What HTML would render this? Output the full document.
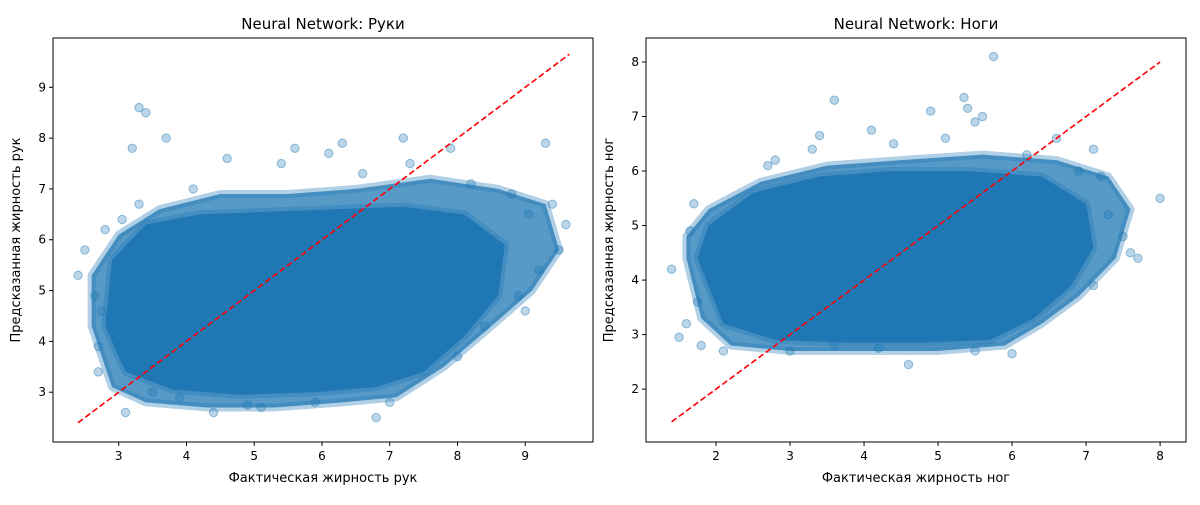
<!DOCTYPE html>
<html><head><meta charset="utf-8">
<style>
body{margin:0;background:#fff;font-family:"Liberation Sans","DejaVu Sans",sans-serif;}
svg text{font-family:"DejaVu Sans","Liberation Sans",sans-serif;}
</style></head>
<body>
<svg id="c" width="1200" height="500" xmlns="http://www.w3.org/2000/svg"></svg>
<script>
// ---- Left panel data (arms) ----
const armXTicks = [3,4,5,6,7,8,9];
const armYTicks = [3,4,5,6,7,8,9];
const armOuterX = [2.6,2.9,3.4,4.3,5.3,6.3,7.1,7.8,8.5,9.1,9.5,9.3,8.6,7.6,6.5,5.5,4.5,3.6,3.0,2.6];
const armOuterY = [4.3,3.1,2.8,2.7,2.7,2.8,2.9,3.5,4.3,5.0,5.8,6.7,7.0,7.2,7.0,6.9,6.9,6.6,6.1,5.3];
const armInnerX = [2.8,3.1,3.8,4.8,5.9,6.8,7.5,8.1,8.6,8.7,8.1,7.2,6.2,5.2,4.2,3.4,2.9];
const armInnerY = [4.3,3.4,3.05,2.95,3.0,3.1,3.4,4.1,4.9,5.9,6.5,6.65,6.6,6.55,6.5,6.3,5.6];
const armPtX = [2.4,2.5,3.3,3.4,3.2,3.7,4.6,5.6,6.1,6.3,7.2,7.9,9.3,9.4,9.6,9.5,9.2,8.9,3.1,2.7,7.5,6.8,4.4,8.0,9.0,2.8,3.5,5.1,2.65,2.7,3.05,4.1,5.4,6.6,7.3,8.2,8.8,9.05,8.4,7.0,5.9,4.9,3.9,3.3,2.75];
const armPtY = [5.3,5.8,8.6,8.5,7.8,8.0,7.6,7.8,7.7,7.9,8.0,7.8,7.9,6.7,6.3,5.8,5.4,4.9,2.6,3.4,3.6,2.5,2.6,3.7,4.6,6.2,3.0,2.7,4.9,3.9,6.4,7.0,7.5,7.3,7.5,7.1,6.9,6.5,4.3,2.8,2.8,2.75,2.9,6.7,4.6];
const armDiag = [2.4,9.65];
// ---- Right panel data (legs) ----
const legXTicks = [2,3,4,5,6,7,8];
const legYTicks = [2,3,4,5,6,7,8];
const legOuterX = [1.6,1.8,2.2,3.0,4.0,5.0,5.9,6.4,6.9,7.4,7.6,7.3,6.6,5.6,4.5,3.5,2.6,1.9,1.6];
const legOuterY = [4.4,3.3,2.8,2.7,2.7,2.7,2.8,3.2,3.7,4.4,5.3,5.9,6.2,6.3,6.2,6.1,5.8,5.3,4.8];
const legInnerX = [1.75,2.1,2.8,3.8,4.8,5.7,6.3,6.8,7.1,7.0,6.4,5.4,4.4,3.4,2.5,1.9];
const legInnerY = [4.4,3.2,2.9,2.85,2.85,2.9,3.3,3.9,4.6,5.4,5.9,6.0,6.0,5.9,5.6,5.0];
const legPtX = [1.4,1.5,1.6,5.75,3.6,5.35,4.9,5.4,5.6,5.5,4.1,3.4,8.0,7.7,7.6,7.2,6.6,2.8,4.6,1.8,7.1,6.0,3.0,1.7,2.1,1.75,1.65,2.7,3.3,4.4,5.1,6.2,6.9,7.3,7.5,7.1,5.5,4.2,3.6];
const legPtY = [4.2,2.95,3.2,8.1,7.3,7.35,7.1,7.15,7.0,6.9,6.75,6.65,5.5,4.4,4.5,5.9,6.6,6.2,2.45,2.8,6.4,2.65,2.7,5.4,2.7,3.6,4.9,6.1,6.4,6.5,6.6,6.3,6.0,5.2,4.8,3.9,2.7,2.75,2.8];
const legDiag = [1.4,8.0];

const NS='http://www.w3.org/2000/svg';
const svg=document.getElementById('c');
function mk(tag,attrs,parent){const e=document.createElementNS(NS,tag);for(const k in attrs)e.setAttribute(k,attrs[k]);(parent||svg).appendChild(e);return e;}
const BLUE='#1f77b4';

function panel(o){
  const g=mk('g',{});
  
  
  const sx=v=>o.x0+(v-o.xmin)/(o.xmax-o.xmin)*(o.x1-o.x0);
  const sy=v=>o.y1-(v-o.ymin)/(o.ymax-o.ymin)*(o.y1-o.y0);
  const poly=(xs,ys,op,nm)=>{
    const p=mk('polygon',{points:xs.map((x,i)=>sx(x)+','+sy(ys[i])).join(' '),fill:BLUE,'fill-opacity':op,stroke:BLUE,'stroke-opacity':0.35,'stroke-width':8,'stroke-linejoin':'round'},g);
    
    
  };
  poly(o.ox,o.oy,0.75,'scatter-cloud-outer');
  poly(o.ix,o.iy,1.0,'scatter-cloud-core');
  o.px.forEach((x,i)=>{
    const c=mk('circle',{cx:sx(x),cy:sy(o.py[i]),r:4.2,fill:BLUE,'fill-opacity':0.3,stroke:BLUE,'stroke-opacity':0.45},g);
    
    
  });
  const d=mk('line',{x1:sx(o.diag[0]),y1:sy(o.diag[0]),x2:sx(o.diag[1]),y2:sy(o.diag[1]),stroke:'#ff0000','stroke-width':1.6,'stroke-dasharray':'6,3'},g);
  
  
  const fr=mk('rect',{x:o.x0,y:o.y0,width:o.x1-o.x0,height:o.y1-o.y0,fill:'none',stroke:'#000','stroke-width':1},g);
  
  
  o.xt.forEach(v=>{
    mk('line',{x1:sx(v),x2:sx(v),y1:o.y1,y2:o.y1+4,stroke:'#000'},g);
    const t=mk('text',{x:sx(v),y:o.y1+18,'font-size':12,'text-anchor':'middle'},g);t.textContent=v;
    
    
  });
  o.yt.forEach(v=>{
    mk('line',{x1:o.x0-4,x2:o.x0,y1:sy(v),y2:sy(v),stroke:'#000'},g);
    const t=mk('text',{x:o.x0-7,y:sy(v)+4,'font-size':12,'text-anchor':'end'},g);t.textContent=v;
    
    
  });
  const ti=mk('text',{x:(o.x0+o.x1)/2,y:29,'font-size':15,'text-anchor':'middle'},g);ti.textContent=o.title;
  
  
  const xl=mk('text',{x:(o.x0+o.x1)/2,y:482,'font-size':13,'text-anchor':'middle'},g);xl.textContent=o.xlabel;
  
  
  const yx=o.x0-33, yy=(o.y0+o.y1)/2;
  const yl=mk('text',{x:yx,y:yy,'font-size':13,'text-anchor':'middle',transform:`rotate(-90 ${yx} ${yy})`},g);yl.textContent=o.ylabel;
  
  
}
panel({name:'arms-panel',x0:53,x1:593,y0:38,y1:442,xmin:2.03,xmax:10.0,ymin:2.02,ymax:9.97,
  ox:armOuterX,oy:armOuterY,ix:armInnerX,iy:armInnerY,px:armPtX,py:armPtY,diag:armDiag,xt:armXTicks,yt:armYTicks,
  title:'Neural Network: Руки',xlabel:'Фактическая жирность рук',ylabel:'Предсказанная жирность рук'});
panel({name:'legs-panel',x0:646,x1:1186,y0:38,y1:442,xmin:1.054,xmax:8.35,ymin:1.03,ymax:8.44,
  ox:legOuterX,oy:legOuterY,ix:legInnerX,iy:legInnerY,px:legPtX,py:legPtY,diag:legDiag,xt:legXTicks,yt:legYTicks,
  title:'Neural Network: Ноги',xlabel:'Фактическая жирность ног',ylabel:'Предсказанная жирность ног'});
</script>
</body></html>
